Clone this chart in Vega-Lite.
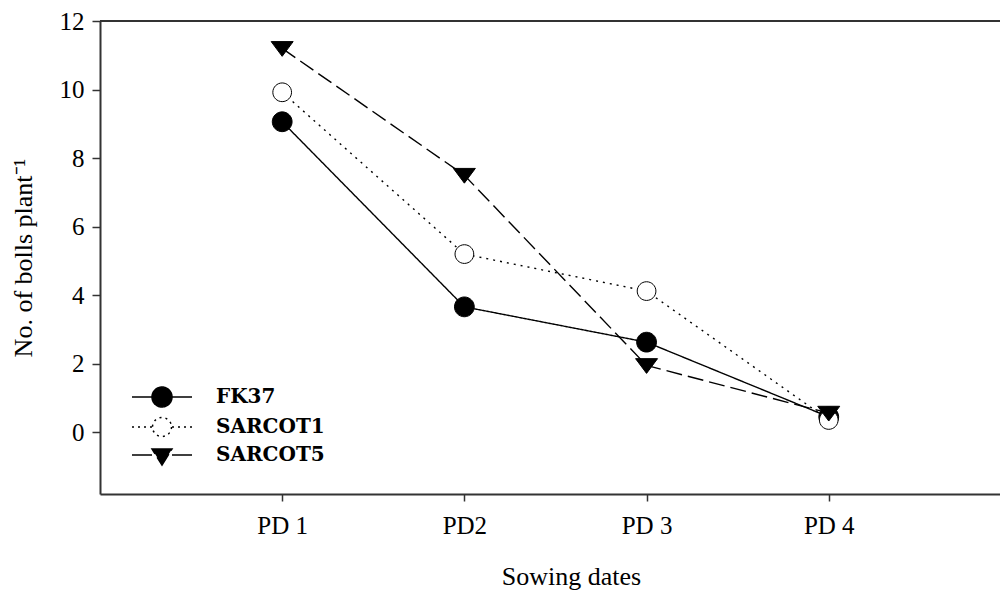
{
  "$schema": "https://vega.github.io/schema/vega-lite/v6.json",
  "width": 900,
  "height": 473,
  "autosize": "none",
  "padding": {"left": 100, "top": 21, "right": 0, "bottom": 100},
  "background": "white",
  "config": {"view": {"stroke": null}, "font": "Liberation Serif"},
  "data": {
    "values": [
      {"pd": 1, "series": "FK37", "value": 9.06},
      {"pd": 2, "series": "FK37", "value": 3.66},
      {"pd": 3, "series": "FK37", "value": 2.63},
      {"pd": 4, "series": "FK37", "value": 0.45},
      {"pd": 1, "series": "SARCOT1", "value": 9.92},
      {"pd": 2, "series": "SARCOT1", "value": 5.2},
      {"pd": 3, "series": "SARCOT1", "value": 4.12},
      {"pd": 4, "series": "SARCOT1", "value": 0.36},
      {"pd": 1, "series": "SARCOT5", "value": 11.2},
      {"pd": 2, "series": "SARCOT5", "value": 7.5},
      {"pd": 3, "series": "SARCOT5", "value": 1.95},
      {"pd": 4, "series": "SARCOT5", "value": 0.56}
    ]
  },
  "encoding": {
    "x": {
      "field": "pd",
      "type": "quantitative",
      "scale": {"domain": [0, 4.94], "nice": false, "zero": false},
      "axis": {
        "values": [1, 2, 3, 4],
        "labelExpr": "datum.value == 1 ? 'PD 1' : datum.value == 2 ? 'PD2' : datum.value == 3 ? 'PD 3' : 'PD 4'",
        "grid": false,
        "tickSize": 7,
        "tickWidth": 1.5,
        "tickColor": "#333333",
        "domainColor": "#333333",
        "domainWidth": 2,
        "labelFont": "Liberation Serif",
        "labelFontSize": 25,
        "labelColor": "black",
        "labelPadding": 12,
        "title": "Sowing dates",
        "titleFont": "Liberation Serif",
        "titleFontSize": 26,
        "titleFontWeight": "normal",
        "titleColor": "black",
        "titlePadding": 25,
        "titleX": 471
      }
    },
    "y": {
      "field": "value",
      "type": "quantitative",
      "scale": {"domain": [-1.8, 12], "nice": false, "zero": false},
      "axis": {
        "values": [0, 2, 4, 6, 8, 10, 12],
        "grid": false,
        "tickSize": 8,
        "tickWidth": 1.5,
        "tickColor": "#333333",
        "domainColor": "#333333",
        "domainWidth": 2,
        "labelFont": "Liberation Serif",
        "labelFontSize": 25,
        "labelColor": "black",
        "labelPadding": 8,
        "title": "No. of bolls plant⁻¹",
        "titleFont": "Liberation Serif",
        "titleFontSize": 26,
        "titleFontWeight": "normal",
        "titleColor": "black",
        "titlePadding": 23
      }
    }
  },
  "layer": [
    {
      "mark": {"type": "rule", "stroke": "#333333", "strokeWidth": 2},
      "encoding": {
        "x": {"datum": 0},
        "x2": {"datum": 4.94},
        "y": {"datum": 12}
      }
    },
    {
      "mark": {"type": "line", "stroke": "black", "strokeWidth": 1.4},
      "encoding": {
        "detail": {"field": "series"},
        "strokeDash": {
          "field": "series",
          "type": "nominal",
          "scale": {"domain": ["FK37", "SARCOT1", "SARCOT5"], "range": [[1, 0], [2, 5], [16, 6]]},
          "legend": null
        }
      }
    },
    {
      "mark": {"type": "point", "stroke": "black", "strokeWidth": 1, "size": 484, "opacity": 1},
      "encoding": {
        "shape": {
          "field": "series",
          "type": "nominal",
          "scale": {
            "domain": ["FK37", "SARCOT1", "SARCOT5"],
            "range": [
              "M0.9,0A0.9,0.9,0,1,1,-0.9,0A0.9,0.9,0,1,1,0.9,0Z",
              "M0.85,0A0.85,0.85,0,1,1,-0.85,0A0.85,0.85,0,1,1,0.85,0Z",
              "M-1,-0.62L1,-0.62L0,0.72Z"
            ]
          },
          "legend": null
        },
        "fill": {
          "field": "series",
          "type": "nominal",
          "scale": {"domain": ["FK37", "SARCOT1", "SARCOT5"], "range": ["black", "white", "black"]},
          "legend": null
        }
      }
    },
    {
      "transform": [{"filter": "false"}],
      "mark": {"type": "point", "stroke": "black", "strokeWidth": 1.5, "opacity": 1},
      "encoding": {
        "shape": {
          "field": "series",
          "type": "nominal",
          "scale": {
            "domain": ["FK37", "SARCOT1", "SARCOT5"],
            "range": [
              "M-3,0L-0.95,0M0.95,0L3,0M1,0A1,1,0,1,1,-1,0A1,1,0,1,1,1,0Z",
              "M-3,0L-1,0M1,0L3,0M0.95,0A0.95,0.95,0,1,1,-0.95,0A0.95,0.95,0,1,1,0.95,0Z",
              "M-3,0L-1,0M1,0L3,0M-1,-0.6L1,-0.6L0,1.0Z"
            ]
          },
          "legend": {
            "title": null, "orient": "none", "legendX": 51, "legendY": 365,
            "symbolSize": 400, "symbolStrokeWidth": 1.5, "symbolStrokeColor": "black",
            "labelFont": "DejaVu Serif", "labelFontSize": 20, "labelFontWeight": "bold", "labelColor": "black",
            "labelOffset": 43, "rowPadding": 4, "padding": 0
          }
        },
        "fill": {
          "field": "series",
          "type": "nominal",
          "scale": {"domain": ["FK37", "SARCOT1", "SARCOT5"], "range": ["black", "white", "black"]},
          "legend": {
            "title": null, "orient": "none", "legendX": 51, "legendY": 365,
            "symbolSize": 400, "symbolStrokeWidth": 1.5, "symbolStrokeColor": "black",
            "labelFont": "DejaVu Serif", "labelFontSize": 20, "labelFontWeight": "bold", "labelColor": "black",
            "labelOffset": 43, "rowPadding": 4, "padding": 0
          }
        },
        "stroke": {
          "field": "series",
          "type": "nominal",
          "scale": {"domain": ["FK37", "SARCOT1", "SARCOT5"], "range": ["black", "black", "black"]},
          "legend": {
            "title": null, "orient": "none", "legendX": 51, "legendY": 365,
            "symbolSize": 400, "symbolStrokeWidth": 1.5, "symbolStrokeColor": "black",
            "labelFont": "DejaVu Serif", "labelFontSize": 20, "labelFontWeight": "bold", "labelColor": "black",
            "labelOffset": 43, "rowPadding": 4, "padding": 0
          }
        },
        "strokeDash": {
          "field": "series",
          "type": "nominal",
          "scale": {"domain": ["FK37", "SARCOT1", "SARCOT5"], "range": [[1, 0], [2, 4], [22, 4]]},
          "legend": {
            "title": null, "orient": "none", "legendX": 51, "legendY": 365,
            "symbolSize": 400, "symbolStrokeWidth": 1.5, "symbolStrokeColor": "black",
            "labelFont": "DejaVu Serif", "labelFontSize": 20, "labelFontWeight": "bold", "labelColor": "black",
            "labelOffset": 43, "rowPadding": 4, "padding": 0
          }
        }
      }
    }
  ],
  "resolve": {"scale": {"shape": "independent", "fill": "independent", "stroke": "independent", "strokeDash": "independent"}}
}
